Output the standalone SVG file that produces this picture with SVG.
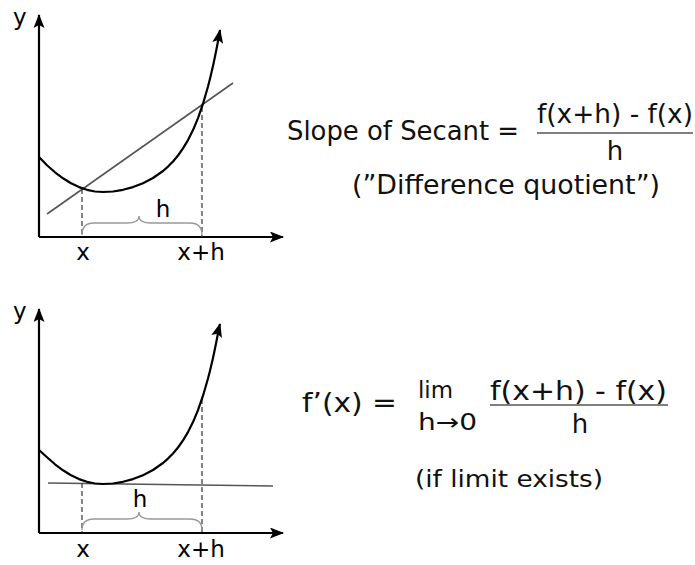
<svg xmlns="http://www.w3.org/2000/svg" width="695" height="565" viewBox="0 0 695 565">
<defs>
<marker id="ah" viewBox="0 0 14 11" refX="13" refY="5.5" markerWidth="14" markerHeight="11" markerUnits="userSpaceOnUse" orient="auto">
<path d="M0,0 L14,5.5 L0,11 L3,5.5 Z" fill="#000"/>
</marker>
<style>
.axis{stroke:#000;stroke-width:2.2;fill:none}
.curve{stroke:#000;stroke-width:2.2;fill:none;stroke-linejoin:round}
.line{stroke:#555;stroke-width:1.6;fill:none}
.dash{stroke:#333;stroke-width:1.2;stroke-dasharray:5,3;fill:none}
.brace{stroke:#999;stroke-width:1.3;fill:none}
.lbl{font-family:"DejaVu Sans",sans-serif;font-size:23px;fill:#000}
.eq{font-family:"DejaVu Sans",sans-serif;font-size:26px;fill:#111}
.sm{font-family:"DejaVu Sans",sans-serif;font-size:23px;fill:#111}
</style>
</defs>
<rect width="695" height="565" fill="#fff"/>

<g id="graph-secant">
<path class="axis" d="M39,237 L39,15" marker-end="url(#ah)"/>
<path class="axis" d="M39,237 L283,237" marker-end="url(#ah)"/>
<text class="lbl" x="13" y="25">y</text>
<path class="line" d="M47,214 L233,83"/>
<path class="dash" d="M82,189 L82,237"/>
<path class="dash" d="M202,107 L202,237"/>
<path class="curve" d="M39,157 L47,165.2 L55,172.3 L63,178.3 L71,183.3 L79,187.1 L87,189.8 L95,191.5 L103,192 L113,191.5 L123,189.8 L133,187.1 L143,183.2 L153,178 L163,171 L168,166.6 L173,161.5 L178,155.5 L183,148.4 L188,140.1 L193,130.1 L198,118.1 L203,103.7 L208,86.5 L210,78.7 L213,65.9 L215,56.6 L217,46.5 L219,35.7 L220,30.1" marker-end="url(#ah)"/>
<path class="brace" d="M82,235 Q82,223 94,223 L127,223 Q139,223 139,216 Q139,223 151,223 L190,223 Q202,223 202,235"/>
<text class="lbl" x="163" y="217" text-anchor="middle">h</text>
<text class="lbl" x="83" y="260" text-anchor="middle">x</text>
<text class="lbl" x="201" y="260" text-anchor="middle">x+h</text>
</g>

<g id="formula-secant">
<text class="eq" x="287" y="140" textLength="232" lengthAdjust="spacingAndGlyphs">Slope of Secant =</text>
<text class="eq" x="537" y="123" textLength="156" lengthAdjust="spacingAndGlyphs">f(x+h) - f(x)</text>
<line x1="537" y1="133" x2="693" y2="133" stroke="#555" stroke-width="1.3"/>
<text class="eq" x="615" y="160" text-anchor="middle">h</text>
<text class="eq" x="352" y="194" textLength="308" lengthAdjust="spacingAndGlyphs">(”Difference quotient”)</text>
</g>

<g id="graph-tangent">
<path class="axis" d="M39,533 L39,309" marker-end="url(#ah)"/>
<path class="axis" d="M39,533 L283,533" marker-end="url(#ah)"/>
<text class="lbl" x="13" y="319">y</text>
<path class="line" d="M48,483 L273,486"/>
<path class="dash" d="M82,483 L82,533"/>
<path class="dash" d="M202,399 L202,533"/>
<path class="curve" transform="translate(0,292)" d="M39,158 L47,165.2 L55,172.3 L63,178.3 L71,183.3 L79,187.1 L87,189.8 L95,191.5 L103,192 L113,191.5 L123,189.8 L133,187.1 L143,183.2 L153,178 L163,171 L168,166.6 L173,161.5 L178,155.5 L183,148.4 L188,140.1 L193,130.1 L198,118.1 L203,103.7 L208,86.5 L210,78.7 L213,65.9 L215,56.6 L217,46.5 L219,35.7 L220,32" marker-end="url(#ah)"/>
<path class="brace" d="M82,530 Q82,519 94,519 L127,519 Q139,519 139,512 Q139,519 151,519 L190,519 Q202,519 202,530"/>
<text class="lbl" x="140" y="507" text-anchor="middle">h</text>
<text class="lbl" x="83" y="557" text-anchor="middle">x</text>
<text class="lbl" x="201" y="557" text-anchor="middle">x+h</text>
</g>

<g id="formula-derivative">
<text class="eq" x="302" y="412" textLength="95" lengthAdjust="spacingAndGlyphs">f’(x) =</text>
<text class="sm" x="418" y="398" textLength="35" lengthAdjust="spacingAndGlyphs">lim</text>
<text class="sm" x="418" y="430" textLength="59" lengthAdjust="spacingAndGlyphs">h→0</text>
<text class="eq" x="490" y="400" textLength="177" lengthAdjust="spacingAndGlyphs">f(x+h) - f(x)</text>
<line x1="490" y1="405" x2="668" y2="405" stroke="#555" stroke-width="1.3"/>
<text class="eq" x="580" y="433" text-anchor="middle">h</text>
<text class="sm" x="415" y="487" textLength="188" lengthAdjust="spacingAndGlyphs">(if limit exists)</text>
</g>
</svg>
